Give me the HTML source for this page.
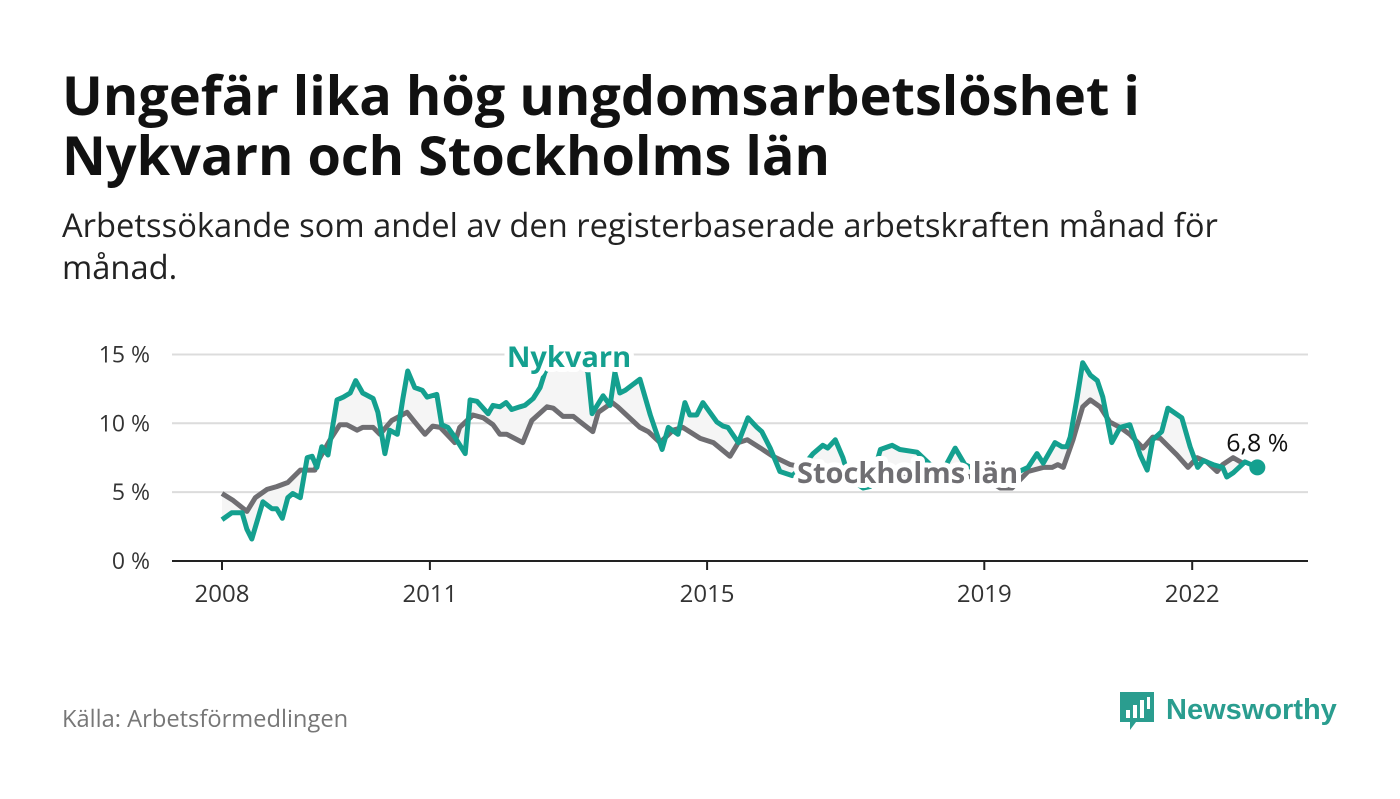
<!DOCTYPE html>
<html><head><meta charset="utf-8"><style>
body{margin:0;background:#fff;width:1400px;height:794px;overflow:hidden;font-family:"Liberation Sans","DejaVu Sans",sans-serif}
</style></head><body>
<svg width="1400" height="794" xmlns="http://www.w3.org/2000/svg" style="font-family:'Open Sans','DejaVu Sans','Liberation Sans',sans-serif">
<text x="62" y="115" font-size="54" font-weight="bold" fill="#111">Ungefär lika hög ungdomsarbetslöshet i</text>
<text x="62" y="175" font-size="54" font-weight="bold" fill="#111">Nykvarn och Stockholms län</text>
<text x="62" y="237" font-size="32.7" fill="#222">Arbetssökande som andel av den registerbaserade arbetskraften månad för</text>
<text x="62" y="279" font-size="32.7" fill="#222">månad.</text>
<g id="grid"></g>
<g id="yt"></g>
<g id="xt"></g>
<path id="area" fill="#f5f5f5"/>
<path id="gl" fill="none" stroke="#6f6e72" stroke-width="5" stroke-linejoin="round"/>
<path id="tl" fill="none" stroke="#14a08f" stroke-width="5" stroke-linejoin="round"/>
<line x1="172" x2="1308" y1="561" y2="561" stroke="#222" stroke-width="2"/>
<g font-weight="bold" font-size="29" paint-order="stroke" stroke="#fff" stroke-width="10" stroke-linejoin="round">
<text x="569" y="367" text-anchor="middle" fill="#14a08f">Nykvarn</text>
<text x="797" y="483" fill="#6f6e72">Stockholms län</text>
</g>
<circle id="dot" r="8" fill="#14a08f"/>
<text id="endlbl" font-size="25" fill="#111" text-anchor="middle" paint-order="stroke" stroke="#fff" stroke-width="5"></text>
<text x="62" y="727" font-size="23.7" fill="#777">Källa: Arbetsförmedlingen</text>
<g>
<path d="M1120 692 h34 v30 h-18 l-6 8 v-8 h-10 z" fill="#2a9d8f"/>
<rect x="1126" y="710" width="4" height="8" fill="#fff"/><rect x="1133" y="705" width="4" height="13" fill="#fff"/><rect x="1140" y="700" width="4" height="18" fill="#fff"/><rect x="1147" y="697" width="3" height="12" fill="#fff"/>
<text x="1166" y="719" font-size="29" font-weight="bold" fill="#2a9d8f" font-family="'Liberation Sans',sans-serif">Newsworthy</text>
</g>
</svg>
<script>
const nykT=[2008.00,2008.14,2008.29,2008.36,2008.43,2008.59,2008.72,2008.79,2008.87,2008.95,2009.02,2009.13,2009.23,2009.30,2009.37,2009.44,2009.53,2009.66,2009.75,2009.85,2009.93,2010.03,2010.18,2010.25,2010.35,2010.42,2010.53,2010.61,2010.68,2010.78,2010.89,2010.96,2011.10,2011.17,2011.26,2011.36,2011.51,2011.58,2011.68,2011.84,2011.91,2012.01,2012.10,2012.18,2012.30,2012.37,2012.49,2012.59,2012.66,2012.81,2012.95,2013.14,2013.28,2013.34,2013.50,2013.60,2013.67,2013.74,2013.82,2014.03,2014.18,2014.35,2014.44,2014.58,2014.68,2014.75,2014.85,2014.94,2015.14,2015.23,2015.30,2015.45,2015.59,2015.72,2015.79,2015.91,2016.05,2016.23,2016.37,2016.53,2016.67,2016.74,2016.85,2016.96,2017.05,2017.25,2017.35,2017.50,2017.67,2017.78,2018.03,2018.22,2018.43,2018.58,2018.72,2018.94,2019.16,2019.37,2019.63,2019.76,2019.85,2020.02,2020.12,2020.19,2020.24,2020.34,2020.42,2020.53,2020.63,2020.71,2020.84,2020.96,2021.10,2021.25,2021.35,2021.43,2021.56,2021.65,2021.85,2021.97,2022.08,2022.16,2022.30,2022.44,2022.50,2022.59,2022.76,2022.94];
const nykV=[3.0,3.5,3.5,2.3,1.6,4.3,3.8,3.8,3.1,4.6,4.9,4.6,7.5,7.6,6.8,8.3,7.7,11.7,11.9,12.2,13.1,12.2,11.8,10.8,7.8,9.5,9.2,11.8,13.8,12.6,12.4,11.9,12.1,9.9,9.7,9.0,7.8,11.7,11.6,10.7,11.3,11.2,11.5,11.0,11.2,11.3,11.8,12.6,13.7,14.8,15.0,14.9,13.7,10.7,12.0,11.3,13.7,12.2,12.4,13.2,10.6,8.1,9.7,9.2,11.5,10.6,10.6,11.5,10.1,9.8,9.7,8.6,10.4,9.7,9.4,8.2,6.5,6.2,6.8,7.8,8.4,8.2,8.8,7.5,6.0,5.3,5.4,8.1,8.4,8.1,7.9,7.0,6.8,8.2,7.0,6.5,6.0,6.2,6.8,7.8,7.1,8.6,8.3,8.3,9.0,11.9,14.4,13.5,13.1,11.9,8.6,9.7,9.9,7.7,6.6,8.8,9.4,11.1,10.4,8.3,6.8,7.3,7.0,6.8,6.1,6.4,7.2,6.8];
const stoT=[2008.00,2008.16,2008.36,2008.48,2008.65,2008.79,2008.95,2009.13,2009.34,2009.39,2009.56,2009.70,2009.80,2009.95,2010.03,2010.18,2010.28,2010.45,2010.67,2010.78,2010.93,2011.04,2011.15,2011.36,2011.43,2011.62,2011.77,2011.91,2012.01,2012.11,2012.34,2012.47,2012.69,2012.78,2012.92,2013.07,2013.17,2013.35,2013.43,2013.63,2013.71,2014.03,2014.15,2014.32,2014.51,2014.65,2014.90,2015.09,2015.33,2015.45,2015.58,2015.77,2015.95,2016.20,2016.49,2016.92,2017.35,2017.78,2018.22,2018.65,2019.01,2019.23,2019.40,2019.63,2019.85,2019.98,2020.06,2020.14,2020.28,2020.42,2020.53,2020.67,2020.81,2020.96,2021.10,2021.29,2021.43,2021.54,2021.78,2021.94,2022.07,2022.21,2022.36,2022.44,2022.59,2022.73];
const stoV=[4.9,4.4,3.6,4.6,5.2,5.4,5.7,6.6,6.6,7.3,8.8,9.9,9.9,9.5,9.7,9.7,9.2,10.2,10.8,10.1,9.2,9.8,9.7,8.6,9.7,10.6,10.4,9.9,9.2,9.2,8.6,10.2,11.2,11.1,10.5,10.5,10.1,9.4,10.8,11.5,11.2,9.7,9.4,8.6,9.5,9.7,8.9,8.6,7.6,8.6,8.8,8.2,7.6,7.0,6.7,6.4,6.5,6.3,6.4,6.2,6.0,5.3,5.3,6.5,6.8,6.8,7.0,6.8,8.8,11.2,11.7,11.2,10.1,9.7,9.2,8.2,9.0,8.9,7.7,6.8,7.5,7.2,6.5,7.0,7.5,7.1];
const yTicks=[0,5,10,15];
const yLabels=["0 %","5 %","10 %","15 %"];
const xTicks=[2008,2011,2015,2019,2022];
const x=t=>222+(t-2008)*69.3;
const y=v=>561-v*13.77;
const NS="http://www.w3.org/2000/svg";
const mk=(tag,at,p)=>{const e=document.createElementNS(NS,tag);for(const k in at)e.setAttribute(k,at[k]);p.appendChild(e);return e;};
const grid=document.getElementById('grid'),yt=document.getElementById('yt'),xt=document.getElementById('xt');
yTicks.forEach((v,i)=>{
 if(v>0){const g=mk('line',{x1:172,x2:1308,y1:y(v),y2:y(v),stroke:'#dcdcdc','stroke-width':2},grid);
 
 }
 const t=mk('text',{x:150,y:y(v)+8,'font-size':23,fill:'#333','text-anchor':'end'},yt);t.textContent=yLabels[i];
 
 
});
xTicks.forEach(v=>{
 const l=mk('line',{x1:x(v),x2:x(v),y1:561,y2:570,stroke:'#222','stroke-width':2},xt);
 
 
 const t=mk('text',{x:x(v),y:602,'font-size':24,fill:'#333','text-anchor':'middle'},xt);t.textContent=v;
 
 
});
const pts=(T,V)=>T.map((t,i)=>x(t).toFixed(1)+','+y(V[i]).toFixed(1));
const tp=pts(nykT,nykV),gp=pts(stoT,stoV);
document.getElementById('tl').setAttribute('d','M'+tp.join('L'));
document.getElementById('gl').setAttribute('d','M'+gp.join('L'));
document.getElementById('area').setAttribute('d','M'+tp.join('L')+'L'+gp.slice().reverse().join('L')+'Z');
const lt=nykT[nykT.length-1],lv=nykV[nykV.length-1];
const dot=document.getElementById('dot');dot.setAttribute('cx',x(lt));dot.setAttribute('cy',y(lv));
const el=document.getElementById('endlbl');el.setAttribute('x',x(lt));el.setAttribute('y',y(lv)-16);
el.textContent=lv.toFixed(1).replace('.',',')+' %';
</script>
</body></html>
